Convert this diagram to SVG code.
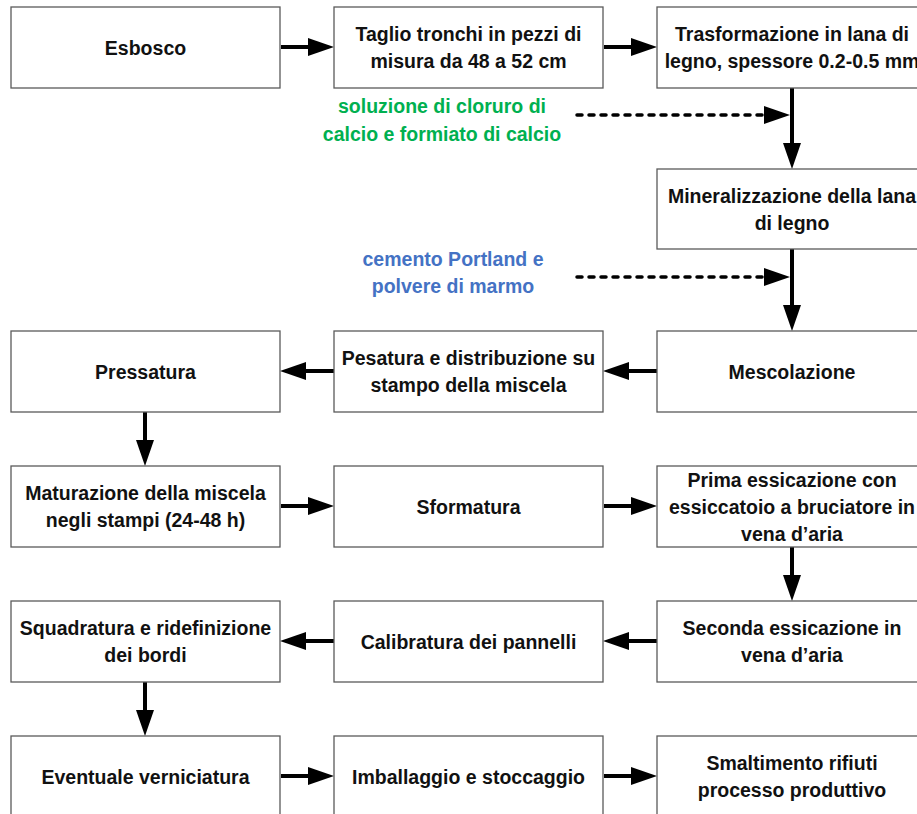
<svg xmlns="http://www.w3.org/2000/svg" width="917" height="814" viewBox="0 0 917 814">
<style>
.box{fill:#fff;stroke:#5a5a5a;stroke-width:1.3}
.t{font-family:"Liberation Sans",Arial,sans-serif;font-weight:bold;font-size:19.5px;fill:#111;text-anchor:middle}
.g{fill:#00b050}
.b{fill:#4472c4}
.c{stroke:#000;stroke-width:4;fill:none;marker-end:url(#ah)}
.d{stroke:#000;stroke-width:3.5;fill:none;stroke-dasharray:5 7;stroke-linecap:round;marker-end:url(#ah)}
</style>
<defs>
<marker id="ah" markerUnits="userSpaceOnUse" markerWidth="26" markerHeight="18" viewBox="0 0 26 18" refX="6" refY="9" orient="auto">
<path d="M0,0 L26,9 L0,18 Z" fill="#000"/>
</marker>
</defs>
<rect width="917" height="814" fill="#fff"/>

<g id="connectors">
<line class="c" x1="281" y1="47" x2="314" y2="47"/>
<line class="c" x1="604" y1="47" x2="637" y2="47"/>
<line class="c" x1="792" y1="88" x2="792" y2="149"/>
<line class="d" x1="577" y1="115" x2="770" y2="115"/>
<line class="c" x1="792" y1="249" x2="792" y2="311"/>
<line class="d" x1="577" y1="277" x2="770" y2="277"/>
<line class="c" x1="657" y1="371" x2="623" y2="371"/>
<line class="c" x1="334" y1="371" x2="300" y2="371"/>
<line class="c" x1="145" y1="412" x2="145" y2="446"/>
<line class="c" x1="281" y1="506" x2="314" y2="506"/>
<line class="c" x1="604" y1="506" x2="637" y2="506"/>
<line class="c" x1="792" y1="547" x2="792" y2="581"/>
<line class="c" x1="657" y1="641" x2="623" y2="641"/>
<line class="c" x1="334" y1="641" x2="300" y2="641"/>
<line class="c" x1="145" y1="682" x2="145" y2="716"/>
<line class="c" x1="281" y1="776" x2="314" y2="776"/>
<line class="c" x1="604" y1="776" x2="637" y2="776"/>
</g>

<g id="n1"><rect class="box" x="11" y="7" width="269" height="81"/><text class="t" x="145.5" y="54.5">Esbosco</text></g>
<g id="n2"><rect class="box" x="334" y="7" width="269" height="81"/><text class="t" x="468.5" y="41">Taglio tronchi in pezzi di</text><text class="t" x="468.5" y="68">misura da 48 a 52 cm</text></g>
<g id="n3"><rect class="box" x="657" y="7" width="270" height="81"/><text class="t" x="792" y="41">Trasformazione in lana di</text><text class="t" x="792" y="68">legno, spessore 0.2-0.5 mm</text></g>
<g id="lab1"><text class="t g" x="442" y="112.5">soluzione di cloruro di</text><text class="t g" x="442" y="140.5">calcio e formiato di calcio</text></g>
<g id="n4"><rect class="box" x="657" y="169" width="270" height="80"/><text class="t" x="792" y="202.5">Mineralizzazione della lana</text><text class="t" x="792" y="229.5">di legno</text></g>
<g id="lab2"><text class="t b" x="453" y="265.5">cemento Portland e</text><text class="t b" x="453" y="292.5">polvere di marmo</text></g>
<g id="n5"><rect class="box" x="657" y="331" width="270" height="81"/><text class="t" x="792" y="378.5">Mescolazione</text></g>
<g id="n6"><rect class="box" x="334" y="331" width="269" height="81"/><text class="t" x="468.5" y="365">Pesatura e distribuzione su</text><text class="t" x="468.5" y="392">stampo della miscela</text></g>
<g id="n7"><rect class="box" x="11" y="331" width="269" height="81"/><text class="t" x="145.5" y="378.5">Pressatura</text></g>
<g id="n8"><rect class="box" x="11" y="466" width="269" height="81"/><text class="t" x="145.5" y="500">Maturazione della miscela</text><text class="t" x="145.5" y="527">negli stampi (24-48 h)</text></g>
<g id="n9"><rect class="box" x="334" y="466" width="269" height="81"/><text class="t" x="468.5" y="513.5">Sformatura</text></g>
<g id="n10"><rect class="box" x="657" y="466" width="270" height="81"/><text class="t" x="792" y="487">Prima essicazione con</text><text class="t" x="792" y="514">essiccatoio a bruciatore in</text><text class="t" x="792" y="540.5">vena d’aria</text></g>
<g id="n11"><rect class="box" x="657" y="601" width="270" height="81"/><text class="t" x="792" y="635">Seconda essicazione in</text><text class="t" x="792" y="662">vena d’aria</text></g>
<g id="n12"><rect class="box" x="334" y="601" width="269" height="81"/><text class="t" x="468.5" y="648.5">Calibratura dei pannelli</text></g>
<g id="n13"><rect class="box" x="11" y="601" width="269" height="81"/><text class="t" x="145.5" y="635">Squadratura e ridefinizione</text><text class="t" x="145.5" y="662">dei bordi</text></g>
<g id="n14"><rect class="box" x="11" y="736" width="269" height="81"/><text class="t" x="145.5" y="783.5">Eventuale verniciatura</text></g>
<g id="n15"><rect class="box" x="334" y="736" width="269" height="81"/><text class="t" x="468.5" y="783.5">Imballaggio e stoccaggio</text></g>
<g id="n16"><rect class="box" x="657" y="736" width="270" height="81"/><text class="t" x="792" y="770">Smaltimento rifiuti</text><text class="t" x="792" y="797">processo produttivo</text></g>
</svg>
